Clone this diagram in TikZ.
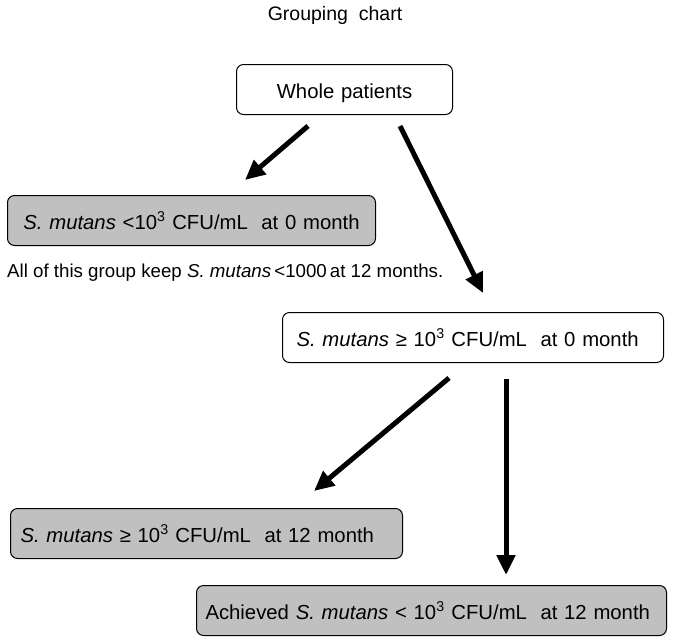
\documentclass[tikz,border=0pt]{standalone}
\usepackage{fontspec}
\setmainfont{Liberation Sans}
\usetikzlibrary{arrows.meta}
\definecolor{boxgray}{RGB}{192,192,192}
\tikzset{
  x=1pt, y=-1pt,
  box/.style={draw=black, line width=1pt, rounded corners=7pt, minimum height=50pt, align=left, inner ysep=0pt, text height=20pt, text depth=3pt, font=\fontsize{20.3}{24}\selectfont, anchor=north west},
  graybox/.style={box, fill=boxgray},
  flowarrow/.style={line width=5pt, -{Triangle[length=20pt,width=18pt]}},
  plain/.style={font=\fontsize{18.7}{22}\selectfont, inner sep=0pt}
}
\newcommand{\sm}{\textit{S. mutans}}
\begin{document}
\begin{tikzpicture}
\useasboundingbox (0,0) rectangle (674,643);
\node[plain, font=\fontsize{19.5}{23}\selectfont] (title) at (335,15) {Grouping\ \ chart};
% boxes
\node[box, inner xsep=0pt, text width=216pt, align=center] (whole) at (236,64) {Whole patients};
\node[graybox, inner xsep=0pt, text width=368pt, align=center] (low0) at (7,195) {\sm\ {<}10\textsuperscript{3} CFU/mL\ \ at 0 month};
\node[plain, anchor=west] (note) at (7,273) {All of this group keep \sm\,<1000\,at 12 months.};
\node[box, inner xsep=14pt, text width=353pt] (high0) at (282,312) {\sm\ ≥ 10\textsuperscript{3} CFU/mL\ \ at 0 month};
\node[graybox, inner xsep=10pt, text width=372pt] (high12) at (10,508) {\sm\ ≥ 10\textsuperscript{3} CFU/mL\ \ at 12 month};
\node[graybox, inner xsep=9pt, text width=452pt] (ach12) at (196,585) {Achieved \sm\ {<} 10\textsuperscript{3} CFU/mL\ \ at 12 month};
% arrow end points
\coordinate (a1s) at (308,126);
\coordinate (a1e) at (245,180);
\coordinate (a2s) at (400,126);
\coordinate (a2e) at (483,293);
\coordinate (a3s) at (449,378);
\coordinate (a3e) at (314,491);
\coordinate (a4s) at (506,379);
\coordinate (a4e) at (506,575);
\draw[flowarrow] (a1s) -- (a1e);
\draw[flowarrow] (a2s) -- (a2e);
\draw[flowarrow] (a3s) -- (a3e);
\draw[flowarrow] (a4s) -- (a4e);
\end{tikzpicture}
\end{document}
